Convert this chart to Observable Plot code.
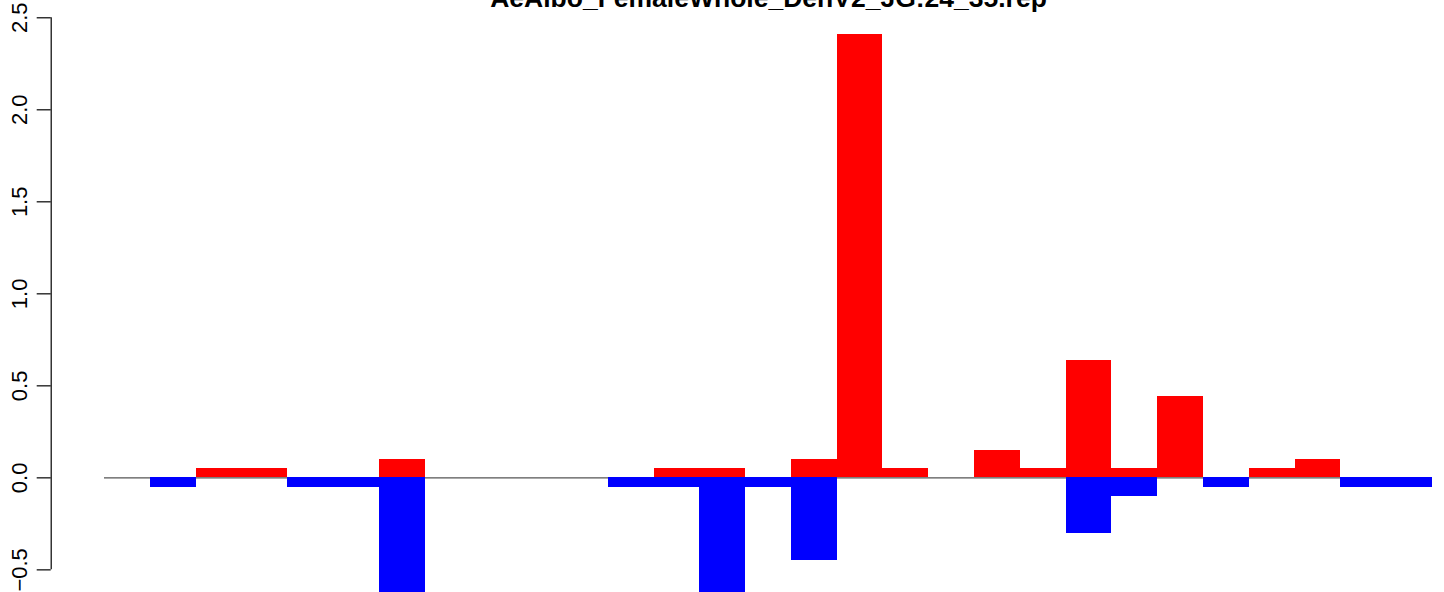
<!DOCTYPE html>
<html>
<head>
<meta charset="utf-8">
<script src="https://cdn.jsdelivr.net/npm/d3@7"></script>
<script src="https://cdn.jsdelivr.net/npm/@observablehq/plot@0.6"></script>
<style>
  html, body { margin: 0; padding: 0; background: #fff; }
  #chart svg { display: block; overflow: hidden; }
</style>
</head>
<body>
<div id="chart"></div>
<script>
const title = "AeAlbo_FemaleWhole_DenV2_JG:24_35.rep";
// bar slots (0..28)
const slots = d3.range(29);
const upValues = [0, 0, 0.05, 0.05, 0, 0, 0.1, 0, 0, 0, 0, 0, 0.05, 0.05, 0, 0.1, 2.41, 0.05, 0, 0.15, 0.05, 0.64, 0.05, 0.44, 0, 0.05, 0.1, 0, 0];
const downValues = [0, -0.05, 0, 0, -0.05, -0.05, -0.7, 0, 0, 0, 0, -0.05, -0.05, -0.7, -0.05, -0.45, 0, 0, 0, 0, 0, -0.3, -0.1, 0, -0.05, 0, 0, -0.05, -0.05];
const yTicks = [-0.5, 0, 0.5, 1, 1.5, 2, 2.5];
const yTickLabels = ["\u22120.5", "0.0", "0.5", "1.0", "1.5", "2.0", "2.5"];

const up = slots.map((s, i) => ({s, v: upValues[i]})).filter(d => d.v !== 0);
const down = slots.map((s, i) => ({s, v: downValues[i]})).filter(d => d.v !== 0);

const axisShift = -53.3;

const chart = Plot.plot({
  width: 1444,
  height: 592,
  marginLeft: 104,
  marginRight: 12,
  marginTop: 0,
  marginBottom: 0,
  style: {fontFamily: "Liberation Sans, Arial, Helvetica, sans-serif", background: "#fff"},
  x: {type: "linear", domain: [0, 29], axis: null},
  y: {domain: [-0.623, 2.594], axis: null},
  marks: [
    Plot.ruleY([0], {stroke: "#555", strokeWidth: 1.1}),
    Plot.rectY(up, {x1: "s", x2: d => d.s + 1, y1: 0, y2: "v", fill: "#ff0000", clip: true, shapeRendering: "crispEdges"}),
    Plot.rectY(down, {x1: "s", x2: d => d.s + 1, y1: 0, y2: "v", fill: "#0000ff", clip: true, shapeRendering: "crispEdges"}),
    // y axis line
    Plot.ruleX([0], {y1: yTicks[0], y2: yTicks[yTicks.length - 1], dx: axisShift, stroke: "#000", strokeWidth: 1.2}),
    Plot.axisY(yTicks, {
      anchor: "left",
      tickSize: 14,
      dx: axisShift,
      tickFormat: d => yTickLabels[yTicks.indexOf(d)],
      tickRotate: -90,
      tickPadding: 10,
      fontSize: 22,
      stroke: "#000",
      strokeWidth: 1.2,
      color: "#000",
      label: null
    }),
    Plot.text([title], {
      frameAnchor: "top",
      lineAnchor: "bottom",
      dy: 6.7,
      fontSize: 26.5,
      fontWeight: "bold",
      fill: "#000"
    })
  ]
});
document.getElementById("chart").appendChild(chart);
</script>
</body>
</html>
